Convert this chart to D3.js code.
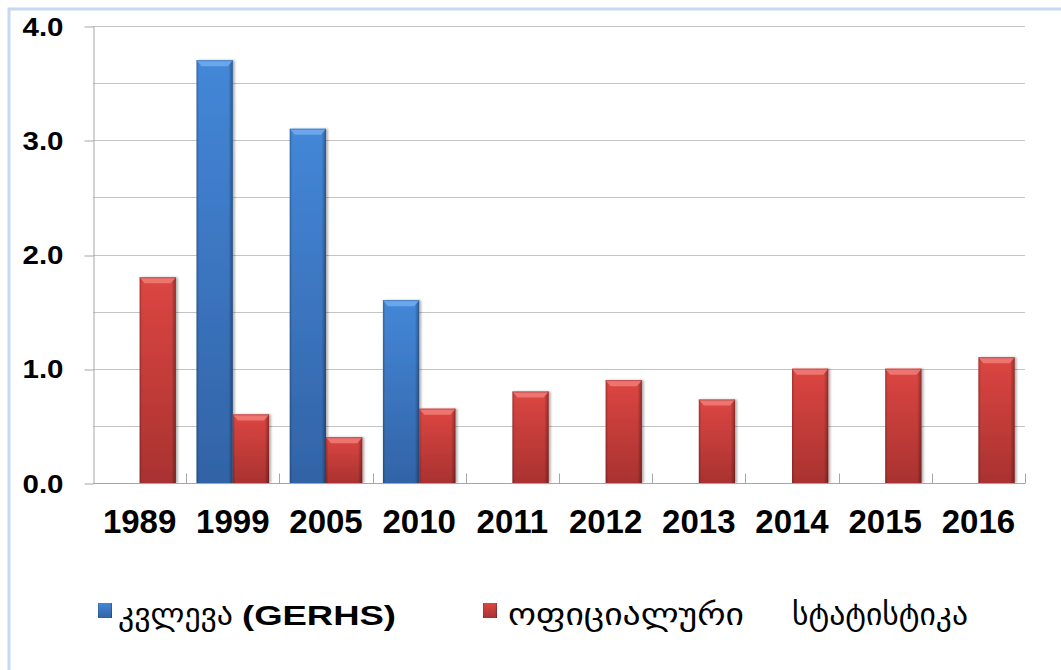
<!DOCTYPE html>
<html>
<head>
<meta charset="utf-8">
<script src="https://cdn.jsdelivr.net/npm/d3@7"></script>
<style>
  html, body { margin: 0; padding: 0; background: #ffffff; }
  svg { display: block; }
</style>
</head>
<body>
<svg id="chart" width="1061" height="670"></svg>
<script>
// Years on the category axis
const years = ["1989", "1999", "2005", "2010", "2011", "2012", "2013", "2014", "2015", "2016"];
// Survey (GERHS) values; null where no survey was done
const surveyValues = [null, 3.7, 3.1, 1.6, null, null, null, null, null, null];
// Official statistics values
const officialValues = [1.8, 0.6, 0.4, 0.65, 0.8, 0.9, 0.73, 1.0, 1.0, 1.1];
// Value axis
const yTickValues = [0, 1, 2, 3, 4];
const gridValues = [0.5, 1, 1.5, 2, 2.5, 3, 3.5, 4];
// Legend entries: Georgian label part and second part
const seriesKeys = ["survey", "official"];
const legendGeorgian = ["კვლევა", "ოფიციალური"];
const legendSecond = ["(GERHS)", "სტატისტიკა"];

const svg = d3.select("#chart");
const W = 1061, H = 670;
const plot = { left: 93, right: 1025, top: 26, bottom: 483 };

const palette = {
  survey:   { top: "#4487d8", bottom: "#3263a6", bevel: "#6aa6ec", edge: "#2a4f86" },
  official: { top: "#dc4642", bottom: "#a93230", bevel: "#ee7470", edge: "#7e2422" }
};

// Frame around the chart area
svg.append("rect")
  .attr("x", 9).attr("y", 9)
  .attr("width", W + 20).attr("height", H + 20)
  .attr("fill", "none")
  .attr("stroke", "#c6d9f1")
  .attr("stroke-width", 3);

const defs = svg.append("defs");
seriesKeys.forEach(k => {
  const g = defs.append("linearGradient").attr("id", "grad-" + k)
    .attr("x1", 0).attr("y1", 0).attr("x2", 0).attr("y2", 1);
  g.append("stop").attr("offset", "0%").attr("stop-color", palette[k].top);
  g.append("stop").attr("offset", "100%").attr("stop-color", palette[k].bottom);
});
const side = defs.append("linearGradient").attr("id", "side-shade")
  .attr("x1", 0).attr("y1", 0).attr("x2", 1).attr("y2", 0);
side.append("stop").attr("offset", "0%").attr("stop-color", "#000").attr("stop-opacity", 0.25);
side.append("stop").attr("offset", "7%").attr("stop-color", "#000").attr("stop-opacity", 0.0);
side.append("stop").attr("offset", "88%").attr("stop-color", "#000").attr("stop-opacity", 0.0);
side.append("stop").attr("offset", "100%").attr("stop-color", "#000").attr("stop-opacity", 0.35);
const shadow = defs.append("filter").attr("id", "bar-shadow")
  .attr("x", "-20%").attr("y", "-5%").attr("width", "150%").attr("height", "115%");
shadow.append("feDropShadow").attr("dx", 2).attr("dy", 0).attr("stdDeviation", 1.2)
  .attr("flood-color", "#000").attr("flood-opacity", 0.3);

// Scales
const x0 = d3.scaleBand().domain(years).range([plot.left, plot.right]).paddingInner(0).paddingOuter(0);
const x1 = d3.scaleBand().domain(seriesKeys).range([0, x0.bandwidth()]).paddingInner(0).paddingOuter(0.284);
const y = d3.scaleLinear().domain([0, 4]).range([plot.bottom, plot.top]);

const crisp = v => Math.round(v) + 0.5;

// Gridlines
svg.append("g").selectAll("line").data(gridValues).join("line")
  .attr("x1", plot.left).attr("x2", plot.right)
  .attr("y1", d => crisp(y(d))).attr("y2", d => crisp(y(d)))
  .attr("stroke", "#c4c4c4").attr("stroke-width", 1);

// Value axis
const yAxis = svg.append("g")
  .attr("transform", `translate(${crisp(plot.left)},0)`)
  .call(d3.axisLeft(y).tickValues(yTickValues).tickSize(9).tickSizeOuter(0)
    .tickPadding(21).tickFormat(d3.format(".1f")));
yAxis.select(".domain").attr("stroke", "#a6a6a6");
yAxis.selectAll(".tick line").attr("stroke", "#a6a6a6")
  .attr("transform", (d) => `translate(0,${crisp(y(d)) - y(d)})`);
yAxis.selectAll(".tick text")
  .attr("fill", "#000")
  .attr("font-family", "'Liberation Sans', Arial, sans-serif")
  .attr("font-weight", "bold")
  .attr("font-size", 25)
  .attr("dy", "0.36em")
  .attr("textLength", 41)
  .attr("lengthAdjust", "spacingAndGlyphs");

// Bars
const rows = years.map((yr, i) => ({ year: yr, survey: surveyValues[i], official: officialValues[i] }));
const bars = [];
rows.forEach(r => seriesKeys.forEach(k => {
  if (r[k] != null) bars.push({ year: r.year, key: k, value: r[k] });
}));

const barG = svg.append("g").selectAll("g").data(bars).join("g")
  .attr("transform", d => `translate(${x0(d.year) + x1(d.key)},0)`);
const bw = x1.bandwidth();
barG.append("rect")
  .attr("x", 0).attr("width", bw)
  .attr("y", d => y(d.value)).attr("height", d => y(0) - y(d.value))
  .attr("fill", d => `url(#grad-${d.key})`)
  .attr("filter", "url(#bar-shadow)");
barG.append("rect")
  .attr("x", 0).attr("width", bw)
  .attr("y", d => y(d.value)).attr("height", d => y(0) - y(d.value))
  .attr("fill", "url(#side-shade)");
barG.append("path")
  .attr("d", d => {
    const t = y(d.value);
    return `M0,${t}L${bw},${t}L${bw - 5},${t + 6}L5,${t + 6}Z`;
  })
  .attr("fill", d => palette[d.key].bevel);
barG.append("line")
  .attr("x1", 0).attr("x2", bw)
  .attr("y1", d => y(d.value) + 0.5).attr("y2", d => y(d.value) + 0.5)
  .attr("stroke", d => palette[d.key].edge).attr("stroke-opacity", 0.4);

// Category axis
svg.append("line")
  .attr("x1", plot.left).attr("x2", plot.right)
  .attr("y1", crisp(y(0))).attr("y2", crisp(y(0)))
  .attr("stroke", "#a6a6a6");
const boundaries = years.map(yr => x0(yr)).concat([plot.right]);
svg.append("g").selectAll("line").data(boundaries.slice(1)).join("line")
  .attr("x1", d => crisp(d)).attr("x2", d => crisp(d))
  .attr("y1", crisp(y(0))).attr("y2", crisp(y(0)) - 10)
  .attr("stroke", "#a6a6a6");

const xAxis = svg.append("g")
  .attr("transform", `translate(0,${y(0)})`)
  .call(d3.axisBottom(x0).tickSize(0).tickPadding(0));
xAxis.select(".domain").remove();
xAxis.selectAll(".tick text")
  .attr("fill", "#000")
  .attr("font-family", "'Liberation Sans', Arial, sans-serif")
  .attr("font-weight", "bold")
  .attr("font-size", 33)
  .attr("y", 50)
  .attr("dy", 0);

// Legend
const legendSwatchX = [98, 483];
const legendGeoX = [118, 508];
const legendGeoW = [115, 236];
const legendSecondX = [242, 792];
const legendSecondW = [154, 176];
const legendBaseline = 625;

const lg = svg.append("g");
seriesKeys.forEach((k, i) => {
  lg.append("rect")
    .attr("x", legendSwatchX[i]).attr("y", 603)
    .attr("width", 14).attr("height", 15)
    .attr("fill", `url(#grad-${k})`);
  lg.append("rect")
    .attr("x", legendSwatchX[i]).attr("y", 603)
    .attr("width", 14).attr("height", 15)
    .attr("fill", "url(#side-shade)");
  lg.append("text")
    .attr("x", legendGeoX[i]).attr("y", legendBaseline)
    .attr("font-family", "'DejaVu Sans', sans-serif")
    .attr("font-size", 31)
    .attr("fill", "#000")
    .attr("textLength", legendGeoW[i])
    .attr("lengthAdjust", "spacingAndGlyphs")
    .text(legendGeorgian[i]);
  const isLatin = /[A-Z]/.test(legendSecond[i]);
  lg.append("text")
    .attr("x", legendSecondX[i]).attr("y", legendBaseline)
    .attr("font-family", isLatin ? "'Liberation Sans', Arial, sans-serif" : "'DejaVu Sans', sans-serif")
    .attr("font-weight", isLatin ? "bold" : "normal")
    .attr("font-size", isLatin ? 28 : 31)
    .attr("fill", "#000")
    .attr("textLength", legendSecondW[i])
    .attr("lengthAdjust", "spacingAndGlyphs")
    .text(legendSecond[i]);
});
</script>
</body>
</html>
